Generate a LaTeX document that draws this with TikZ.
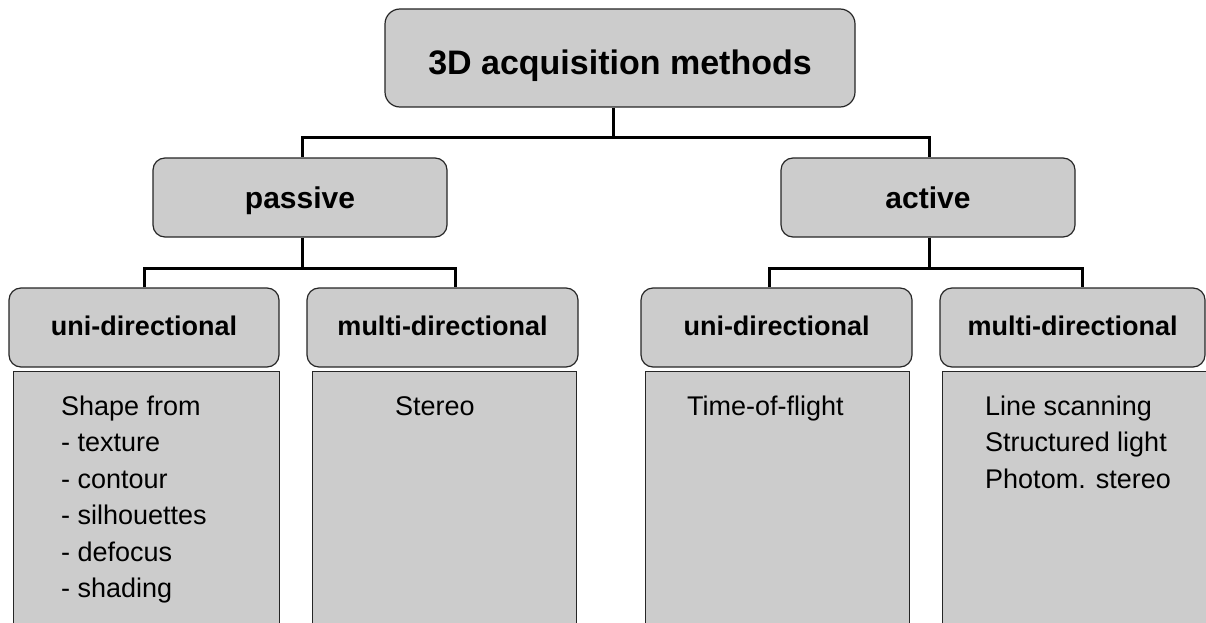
\documentclass[tikz,border=0pt]{standalone}
\usepackage{fontspec}
\setmainfont{Liberation Sans}
\definecolor{boxfill}{HTML}{CCCCCC}
\definecolor{boxline}{HTML}{262626}
\tikzset{
  hbox/.style={draw=boxline, fill=boxfill, line width=1.2pt, rounded corners=12pt,
    inner sep=0pt, text=black, font=\bfseries\fontsize{27}{32}\selectfont,
    text depth=0pt, text height=15pt},
  conn/.style={line width=3pt, draw=black},
  cbox/.style={draw=boxline, fill=boxfill, line width=1.4pt, inner sep=0pt},
  body/.style={font=\fontsize{27}{36.5}\selectfont, align=left, anchor=base west,
    inner sep=0pt, text=black}
}
\begin{document}
\begin{tikzpicture}[x=1pt, y=-1pt]
\useasboundingbox[fill=white] (0,0) rectangle (1206,623);

% top level
\node[hbox, rounded corners=15pt, minimum width=470pt, minimum height=98pt, text height=34pt,
  font=\bfseries\fontsize{34}{40}\selectfont] (title) at (620,58) {3D acquisition methods};

% second level
\node[hbox, minimum width=294pt, minimum height=79pt, text height=21pt,
  font=\bfseries\fontsize{30}{36}\selectfont] (passive) at (300,197.5) {passive};
\node[hbox, minimum width=294pt, minimum height=79pt, text height=21pt,
  font=\bfseries\fontsize{30}{36}\selectfont] (active) at (928,197.5) {active};

% third level headers
\node[hbox, minimum width=270pt, minimum height=79pt] (puni) at (144,327.5) {uni-directional};
\node[hbox, minimum width=271pt, minimum height=79pt] (pmulti) at (442.5,327.5) {multi-directional};
\node[hbox, minimum width=271pt, minimum height=79pt] (auni) at (776.5,327.5) {uni-directional};
\node[hbox, minimum width=265pt, minimum height=79pt] (amulti) at (1072.5,327.5) {multi-directional};

% content panels (run off the bottom edge)
\node[cbox, anchor=north west, minimum width=266pt, minimum height=280pt] (pucont) at (13,371) {};
\node[cbox, anchor=north west, minimum width=264pt, minimum height=280pt] (pmcont) at (312,371) {};
\node[cbox, anchor=north west, minimum width=264pt, minimum height=280pt] (aucont) at (645,371) {};
\node[cbox, anchor=north west, minimum width=280pt, minimum height=280pt] (amcont) at (942,371) {};

% panel texts (base anchor sits on the last line)
\node[body] (putext) at (61,597.5) {Shape from\\- texture\\- contour\\- silhouettes\\- defocus\\- shading};
\node[body] (pmtext) at (395,415) {Stereo};
\node[body] (autext) at (687,415) {Time-of-flight};
\node[body] (amtext) at (985,488) {Line scanning\\Structured light\\Photom. stereo};

% connectors: root to second level
\coordinate (tj) at (613,137);
\coordinate (tl) at (302,137);
\coordinate (tr) at (929,137);
\draw[conn] (title.south -| tj) -- (tj);
\draw[conn] (passive.north -| tl) -- (tl) -- (tr) -- (active.north -| tr);

% connectors: passive branch
\coordinate (pl) at (144,268);
\coordinate (pr) at (455,268);
\draw[conn] (passive.south -| tl) -- (tl |- pl);
\draw[conn] (puni.north -| pl) -- (pl) -- (pr) -- (pmulti.north -| pr);

% connectors: active branch
\coordinate (al) at (769,268);
\coordinate (ar) at (1082,268);
\draw[conn] (active.south -| tr) -- (tr |- al);
\draw[conn] (auni.north -| al) -- (al) -- (ar) -- (amulti.north -| ar);
\end{tikzpicture}
\end{document}
